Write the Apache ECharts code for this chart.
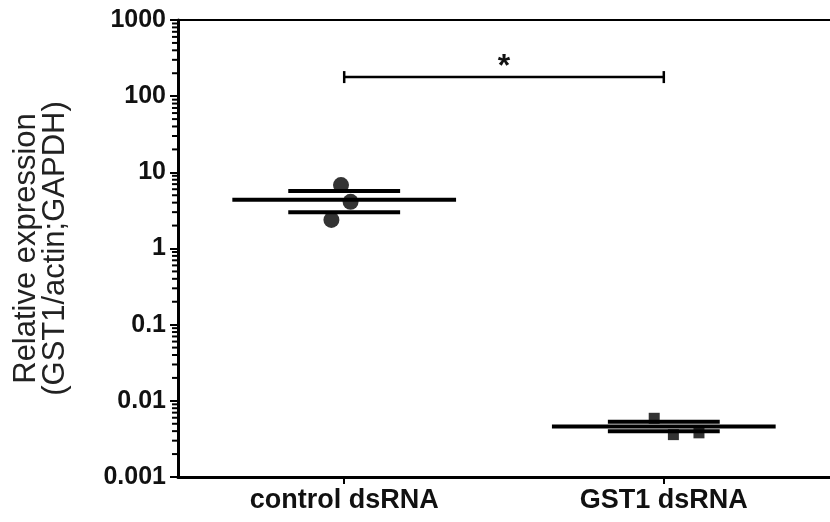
<!DOCTYPE html>
<html>
<head>
<meta charset="utf-8">
<script src="https://cdn.jsdelivr.net/npm/echarts@6/dist/echarts.min.js"></script>
<style>
  html, body { margin: 0; background: #fff; }
  #chart { width: 830px; height: 522px; }
</style>
</head>
<body>
<div id="chart"></div>
<script>
const categories = ['control dsRNA', 'GST1 dsRNA']
const yTicks = [0.001, 0.01, 0.1, 1, 10, 100, 1000]

// replicates: [x (category index 1/2 + jitter), value]
const controlPoints = [[0.99, 6.8], [0.96, 2.37], [1.02, 4.1]]
const gst1Points = [[1.97, 0.0059], [2.03, 0.0036], [2.11, 0.0038]]

// mean +/- SD per group
const groupX = [1, 2]
const means = [4.35, 0.0046]
const sdLow = [3.0, 0.0040]
const sdHigh = [5.7, 0.0053]

// significance bracket
const sigFrom = 1
const sigTo = 2
const sigY = 178
const sigLabel = '*'

const FONT = '"Liberation Sans", Arial, sans-serif'
const xMin = 0.48
const xMax = 2.52

// log minor ticks 2..9 within each decade
const minorTicks = []
for (let i = 0; i < yTicks.length - 1; i++) {
  for (let k = 2; k <= 9; k++) minorTicks.push([xMin, yTicks[i] * k])
}

const chart = echarts.init(document.getElementById('chart'))

const option = {
  animation: false,
  grid: { left: 178, right: 0, top: 20, bottom: 45 },
  xAxis: [
    {
      type: 'value',
      min: xMin,
      max: xMax,
      splitLine: { show: false },
      axisLine: { lineStyle: { color: '#000', width: 3 } },
      axisTick: { customValues: groupX, length: 7, lineStyle: { color: '#000', width: 2 } },
      axisLabel: {
        customValues: groupX,
        formatter: v => categories[Math.round(v) - 1],
        color: '#111',
        fontFamily: FONT,
        fontWeight: 'bold',
        fontSize: 27,
        margin: 10
      }
    },
    {
      type: 'value',
      position: 'top',
      min: xMin,
      max: xMax,
      splitLine: { show: false },
      axisLine: { lineStyle: { color: '#000', width: 2 } },
      axisTick: { show: false },
      axisLabel: { show: false }
    }
  ],
  yAxis: {
    type: 'log',
    logBase: 10,
    min: yTicks[0],
    max: yTicks[yTicks.length - 1],
    splitLine: { show: false },
    axisLine: { lineStyle: { color: '#000', width: 3 } },
    axisTick: { length: 8, lineStyle: { color: '#000', width: 2 } },
    axisLabel: {
      formatter: v => {
        const e = Math.round(Math.log10(v))
        const t = yTicks.find(t => Math.round(Math.log10(t)) === e)
        return t === undefined ? '' : String(t)
      },
      color: '#111',
      fontFamily: FONT,
      fontWeight: 'bold',
      fontSize: 25,
      margin: 12
    },
    name: 'Relative expression\n(GST1/actin;GAPDH)',
    nameLocation: 'middle',
    nameRotate: 90,
    nameGap: 108,
    nameTextStyle: {
      color: '#222',
      fontFamily: FONT,
      fontSize: 31,
      lineHeight: 29
    }
  },
  series: [
    {
      type: 'custom',
      clip: false,
      silent: true,
      data: minorTicks,
      renderItem: (params, api) => {
        const p = api.coord([api.value(0), api.value(1)])
        return {
          type: 'line',
          shape: { x1: p[0] - 6, y1: p[1], x2: p[0], y2: p[1] },
          style: { stroke: '#000', lineWidth: 2 }
        }
      }
    },
    {
      type: 'scatter',
      data: controlPoints,
      symbol: 'circle',
      symbolSize: 16,
      itemStyle: { color: '#000' },
      z: 3
    },
    {
      type: 'scatter',
      data: gst1Points,
      symbol: 'rect',
      symbolSize: 11,
      itemStyle: { color: '#000' },
      z: 3
    },
    {
      type: 'custom',
      clip: false,
      data: groupX.map((x, i) => [x, means[i], sdLow[i], sdHigh[i]]),
      renderItem: (params, api) => {
        const unit = api.size([1, 0])[0]
        const x = api.value(0)
        const pm = api.coord([x, api.value(1)])
        const pl = api.coord([x, api.value(2)])
        const ph = api.coord([x, api.value(3)])
        const st = { stroke: '#000', lineWidth: 4 }
        const meanHalf = 0.35 * unit
        const sdHalf = 0.175 * unit
        return {
          type: 'group',
          children: [
            { type: 'line', shape: { x1: pm[0] - meanHalf, y1: pm[1], x2: pm[0] + meanHalf, y2: pm[1] }, style: st },
            { type: 'line', shape: { x1: pl[0] - sdHalf, y1: pl[1], x2: pl[0] + sdHalf, y2: pl[1] }, style: st },
            { type: 'line', shape: { x1: ph[0] - sdHalf, y1: ph[1], x2: ph[0] + sdHalf, y2: ph[1] }, style: st }
          ]
        }
      },
      z: 4
    },
    {
      type: 'custom',
      clip: false,
      data: [[sigFrom, sigTo, sigY]],
      renderItem: (params, api) => {
        const a = api.coord([api.value(0), api.value(2)])
        const b = api.coord([api.value(1), api.value(2)])
        const st = { stroke: '#000', lineWidth: 2.5 }
        return {
          type: 'group',
          children: [
            { type: 'line', shape: { x1: a[0], y1: a[1], x2: b[0], y2: b[1] }, style: st },
            { type: 'line', shape: { x1: a[0], y1: a[1] - 6, x2: a[0], y2: a[1] + 6 }, style: st },
            { type: 'line', shape: { x1: b[0], y1: b[1] - 6, x2: b[0], y2: b[1] + 6 }, style: st },
            {
              type: 'text',
              x: (a[0] + b[0]) / 2,
              y: a[1] - 10,
              style: {
                text: sigLabel,
                fill: '#111',
                font: 'bold 32px ' + FONT,
                align: 'center',
                verticalAlign: 'middle'
              }
            }
          ]
        }
      }
    }
  ]
}

chart.setOption(option)
</script>
</body>
</html>
